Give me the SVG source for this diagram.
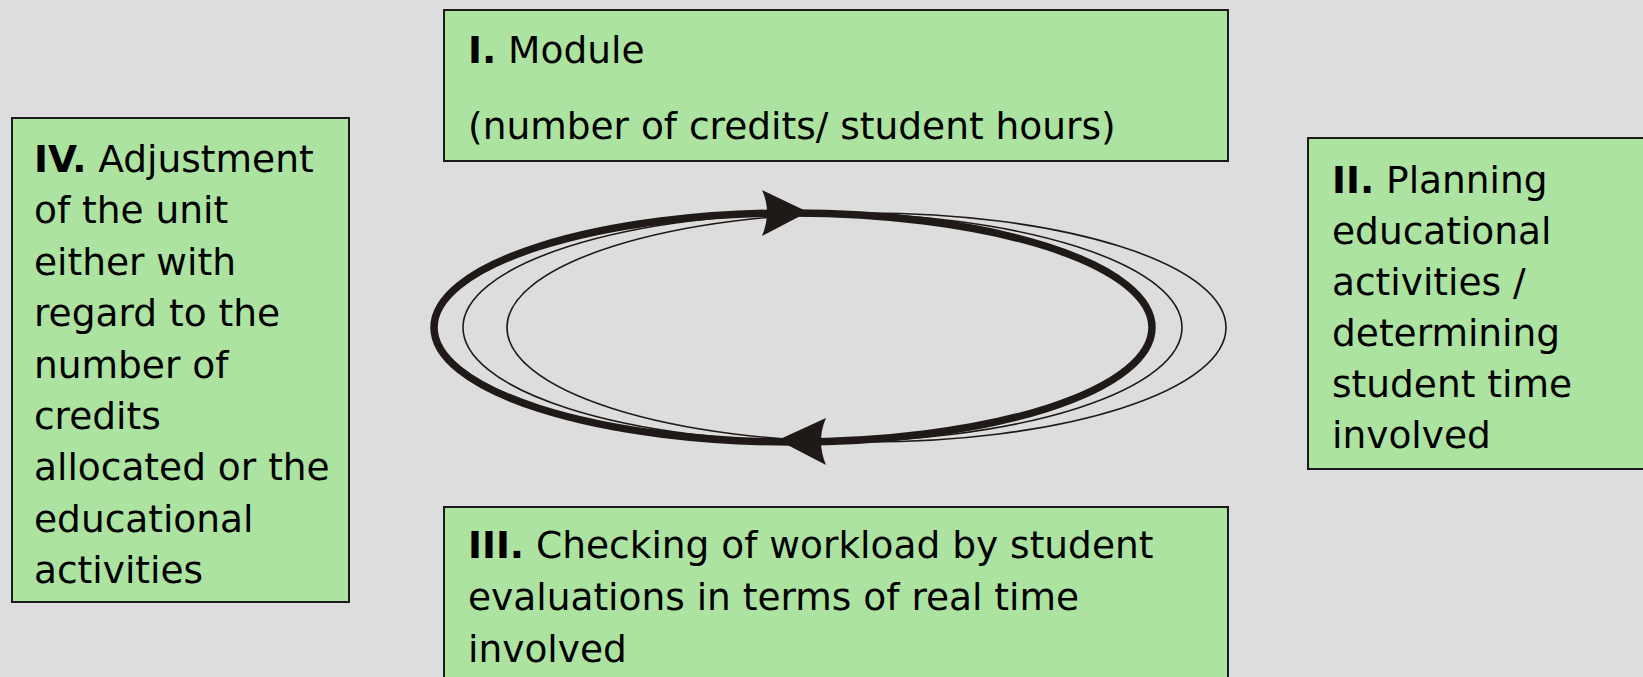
<svg xmlns="http://www.w3.org/2000/svg" width="1643" height="677" viewBox="0 0 1643 677">
  <style>
    .box { fill: #ace3a0; stroke: #1a1a1a; stroke-width: 2; }
    .t { font-family: "DejaVu Sans", Verdana, sans-serif; font-size: 37.5px; fill: #000; }
    .b { font-weight: bold; }
    .thick { fill: none; stroke: #1f1a17; stroke-width: 7.5; }
    .thin { fill: none; stroke: #1f1a17; stroke-width: 1.6; }
    .head { fill: #1f1a17; }
  </style>
  <rect x="0" y="0" width="1643" height="677" fill="#dddddd"/>

  <g id="connectors">
    <ellipse class="thin" cx="866.5" cy="327.5" rx="359.5" ry="114.5"/>
    <ellipse class="thin" cx="822.5" cy="327.5" rx="359.5" ry="114.5"/>
    <ellipse class="thick" cx="793" cy="327.5" rx="359" ry="114.5"/>
    <path class="head" d="M808,212 L762,190 Q772,212 762,236 Z"/>
    <path class="head" d="M778,440 L826,418 Q816,441 826,465 Z"/>
  </g>

  <g id="node-I">
    <rect class="box" x="444" y="10" width="784" height="151"/>
    <text class="t" x="468" y="63"><tspan class="b">I.</tspan> Module</text>
    <text class="t" x="468" y="139">(number of credits/ student hours)</text>
  </g>

  <g id="node-II">
    <rect class="box" x="1308" y="138" width="350" height="331"/>
    <text class="t" x="1332" y="193"><tspan class="b">II.</tspan> Planning</text>
    <text class="t" x="1332" y="244">educational</text>
    <text class="t" x="1332" y="295">activities /</text>
    <text class="t" x="1332" y="346">determining</text>
    <text class="t" x="1332" y="397">student time</text>
    <text class="t" x="1332" y="448">involved</text>
  </g>

  <g id="node-III">
    <rect class="box" x="444" y="507" width="784" height="190"/>
    <text class="t" x="468" y="558"><tspan class="b">III.</tspan> Checking of workload by student</text>
    <text class="t" x="468" y="610">evaluations in terms of real time</text>
    <text class="t" x="468" y="662">involved</text>
  </g>

  <g id="node-IV">
    <rect class="box" x="12" y="118" width="337" height="484"/>
    <text class="t" x="34" y="172"><tspan class="b">IV.</tspan> Adjustment</text>
    <text class="t" x="34" y="223">of the unit</text>
    <text class="t" x="34" y="275">either with</text>
    <text class="t" x="34" y="326">regard to the</text>
    <text class="t" x="34" y="378">number of</text>
    <text class="t" x="34" y="429">credits</text>
    <text class="t" x="34" y="480">allocated or the</text>
    <text class="t" x="34" y="532">educational</text>
    <text class="t" x="34" y="583">activities</text>
  </g>
</svg>
